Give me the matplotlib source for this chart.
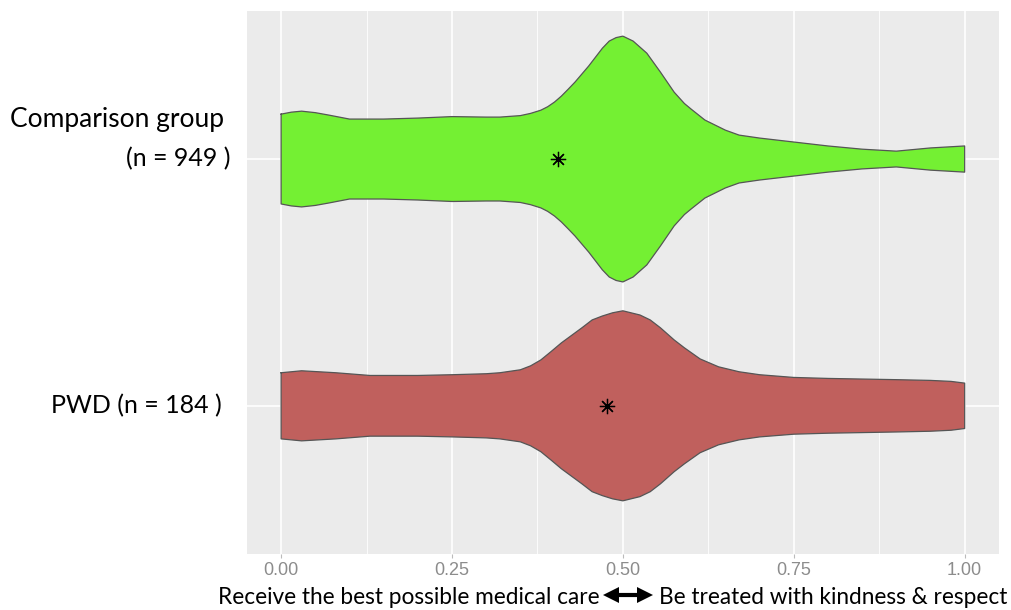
import numpy as np
import matplotlib.pyplot as plt
from matplotlib.lines import Line2D

# violin outlines: x position and half width (y units)
groups = ["Comparison group", "PWD"]
n_sizes = [949, 184]

comp_x = [0.00, 0.015, 0.03, 0.05, 0.07, 0.10, 0.15, 0.20, 0.25, 0.30, 0.32, 0.35,
          0.365, 0.38, 0.39, 0.40, 0.41, 0.42, 0.43, 0.45, 0.47, 0.48, 0.49, 0.50,
          0.515, 0.535, 0.555, 0.575, 0.59, 0.60, 0.62, 0.65, 0.67, 0.70, 0.75, 0.80,
          0.85, 0.90, 0.95, 1.00]
comp_w = [0.182, 0.190, 0.194, 0.188, 0.178, 0.162, 0.162, 0.166, 0.172, 0.170, 0.170, 0.176,
          0.185, 0.198, 0.212, 0.231, 0.255, 0.283, 0.312, 0.377, 0.449, 0.478, 0.492, 0.498,
          0.478, 0.429, 0.352, 0.271, 0.225, 0.202, 0.158, 0.117, 0.097, 0.085, 0.069, 0.053,
          0.040, 0.032, 0.045, 0.053]

pwd_x = [0.00, 0.03, 0.08, 0.13, 0.20, 0.25, 0.30, 0.32, 0.35, 0.365, 0.38, 0.395,
         0.41, 0.44, 0.455, 0.47, 0.485, 0.50, 0.525, 0.54, 0.555, 0.575, 0.59, 0.613,
         0.64, 0.67, 0.70, 0.75, 0.80, 0.90, 0.95, 0.98, 1.00]
pwd_w = [0.134, 0.142, 0.134, 0.123, 0.123, 0.126, 0.130, 0.134, 0.146, 0.162, 0.186, 0.220,
         0.255, 0.316, 0.348, 0.364, 0.377, 0.385, 0.368, 0.348, 0.316, 0.267, 0.235, 0.190,
         0.158, 0.138, 0.126, 0.115, 0.111, 0.106, 0.103, 0.099, 0.092]

means = [0.405, 0.477]
fills = ["#74F033", "#C0605D"]

x_ticks = [0, 0.25, 0.5, 0.75, 1.0]
x_labels = ["0.00", "0.25", "0.50", "0.75", "1.00"]
x_minor = [0.125, 0.375, 0.625, 0.875]

fig = plt.figure(figsize=(10.12, 6.10), dpi=100)
ax = fig.add_axes([0.244, 0.092, 0.743, 0.890])
ax.set_facecolor("#EBEBEB")

# panel grid (ggplot style)
for v in x_ticks:
    ax.axvline(v, color="white", lw=1.2, zorder=1)
for v in x_minor:
    ax.axvline(v, color="white", lw=0.6, zorder=1)
for p in range(1, len(groups) + 1):
    ax.axhline(p, color="white", lw=1.2, zorder=1)

outlines = [(comp_x, comp_w), (pwd_x, pwd_w)]
for i, ((xs, ws), col) in enumerate(zip(outlines, fills)):
    pos = i + 1
    xs = np.array(xs)
    ws = np.array(ws)
    ax.fill_between(xs, pos - ws, pos + ws, facecolor=col, edgecolor="none", zorder=3)
    px = np.concatenate([xs, xs[::-1], xs[:1]])
    py = np.concatenate([pos - ws, (pos + ws)[::-1], [pos - ws[0]]])
    ax.plot(px, py, color="#555555", lw=0.9, zorder=4, solid_joinstyle="round")
    ax.plot(means[i], pos, marker=(8, 2, 0), color="black", ms=11, mew=0.9, zorder=5)

ax.set_xlim(-0.05, 1.05)
ax.set_ylim(2.6, 0.4)
ax.set_xticks(x_ticks)
ax.set_xticklabels(x_labels, color="#8C8C8C", fontsize=13, family="Liberation Sans")
ax.set_yticks([])
ax.tick_params(axis="x", which="major", length=3, color="#BBBBBB", pad=3)
for s in ax.spines.values():
    s.set_visible(False)

lab_font = ["Lato", "DejaVu Sans"]
ytr = ax.get_yaxis_transform()
ax.text(-0.03, 0.84, groups[0], transform=ytr,
        ha="right", va="center", fontsize=19, family=lab_font)
ax.text(-0.022, 1.0, "(n = %d )" % n_sizes[0], transform=ytr,
        ha="right", va="center", fontsize=18, family=lab_font)
ax.text(-0.033, 2.0, "%s (n = %d )" % (groups[1], n_sizes[1]), transform=ytr,
        ha="right", va="center", fontsize=18, family=lab_font)

# x axis title: two phrases joined by a bold double arrow
ty = 0.021
fig.text(600 / 1012, ty, "Receive the best possible medical care",
         ha="right", va="center", fontsize=16.3, family=lab_font)
fig.text(659 / 1012, ty, "Be treated with kindness & respect",
         ha="left", va="center", fontsize=16.3, family=lab_font)
ay = ty + 0.003
fig.add_artist(Line2D([613 / 1012, 643 / 1012], [ay, ay], transform=fig.transFigure,
                      color="black", lw=3.0, solid_capstyle="butt"))
fig.add_artist(Line2D([611 / 1012], [ay], transform=fig.transFigure, marker="<",
                      ms=11, color="black", mew=0))
fig.add_artist(Line2D([645 / 1012], [ay], transform=fig.transFigure, marker=">",
                      ms=11, color="black", mew=0))

fig.savefig("out.png", dpi=100)
